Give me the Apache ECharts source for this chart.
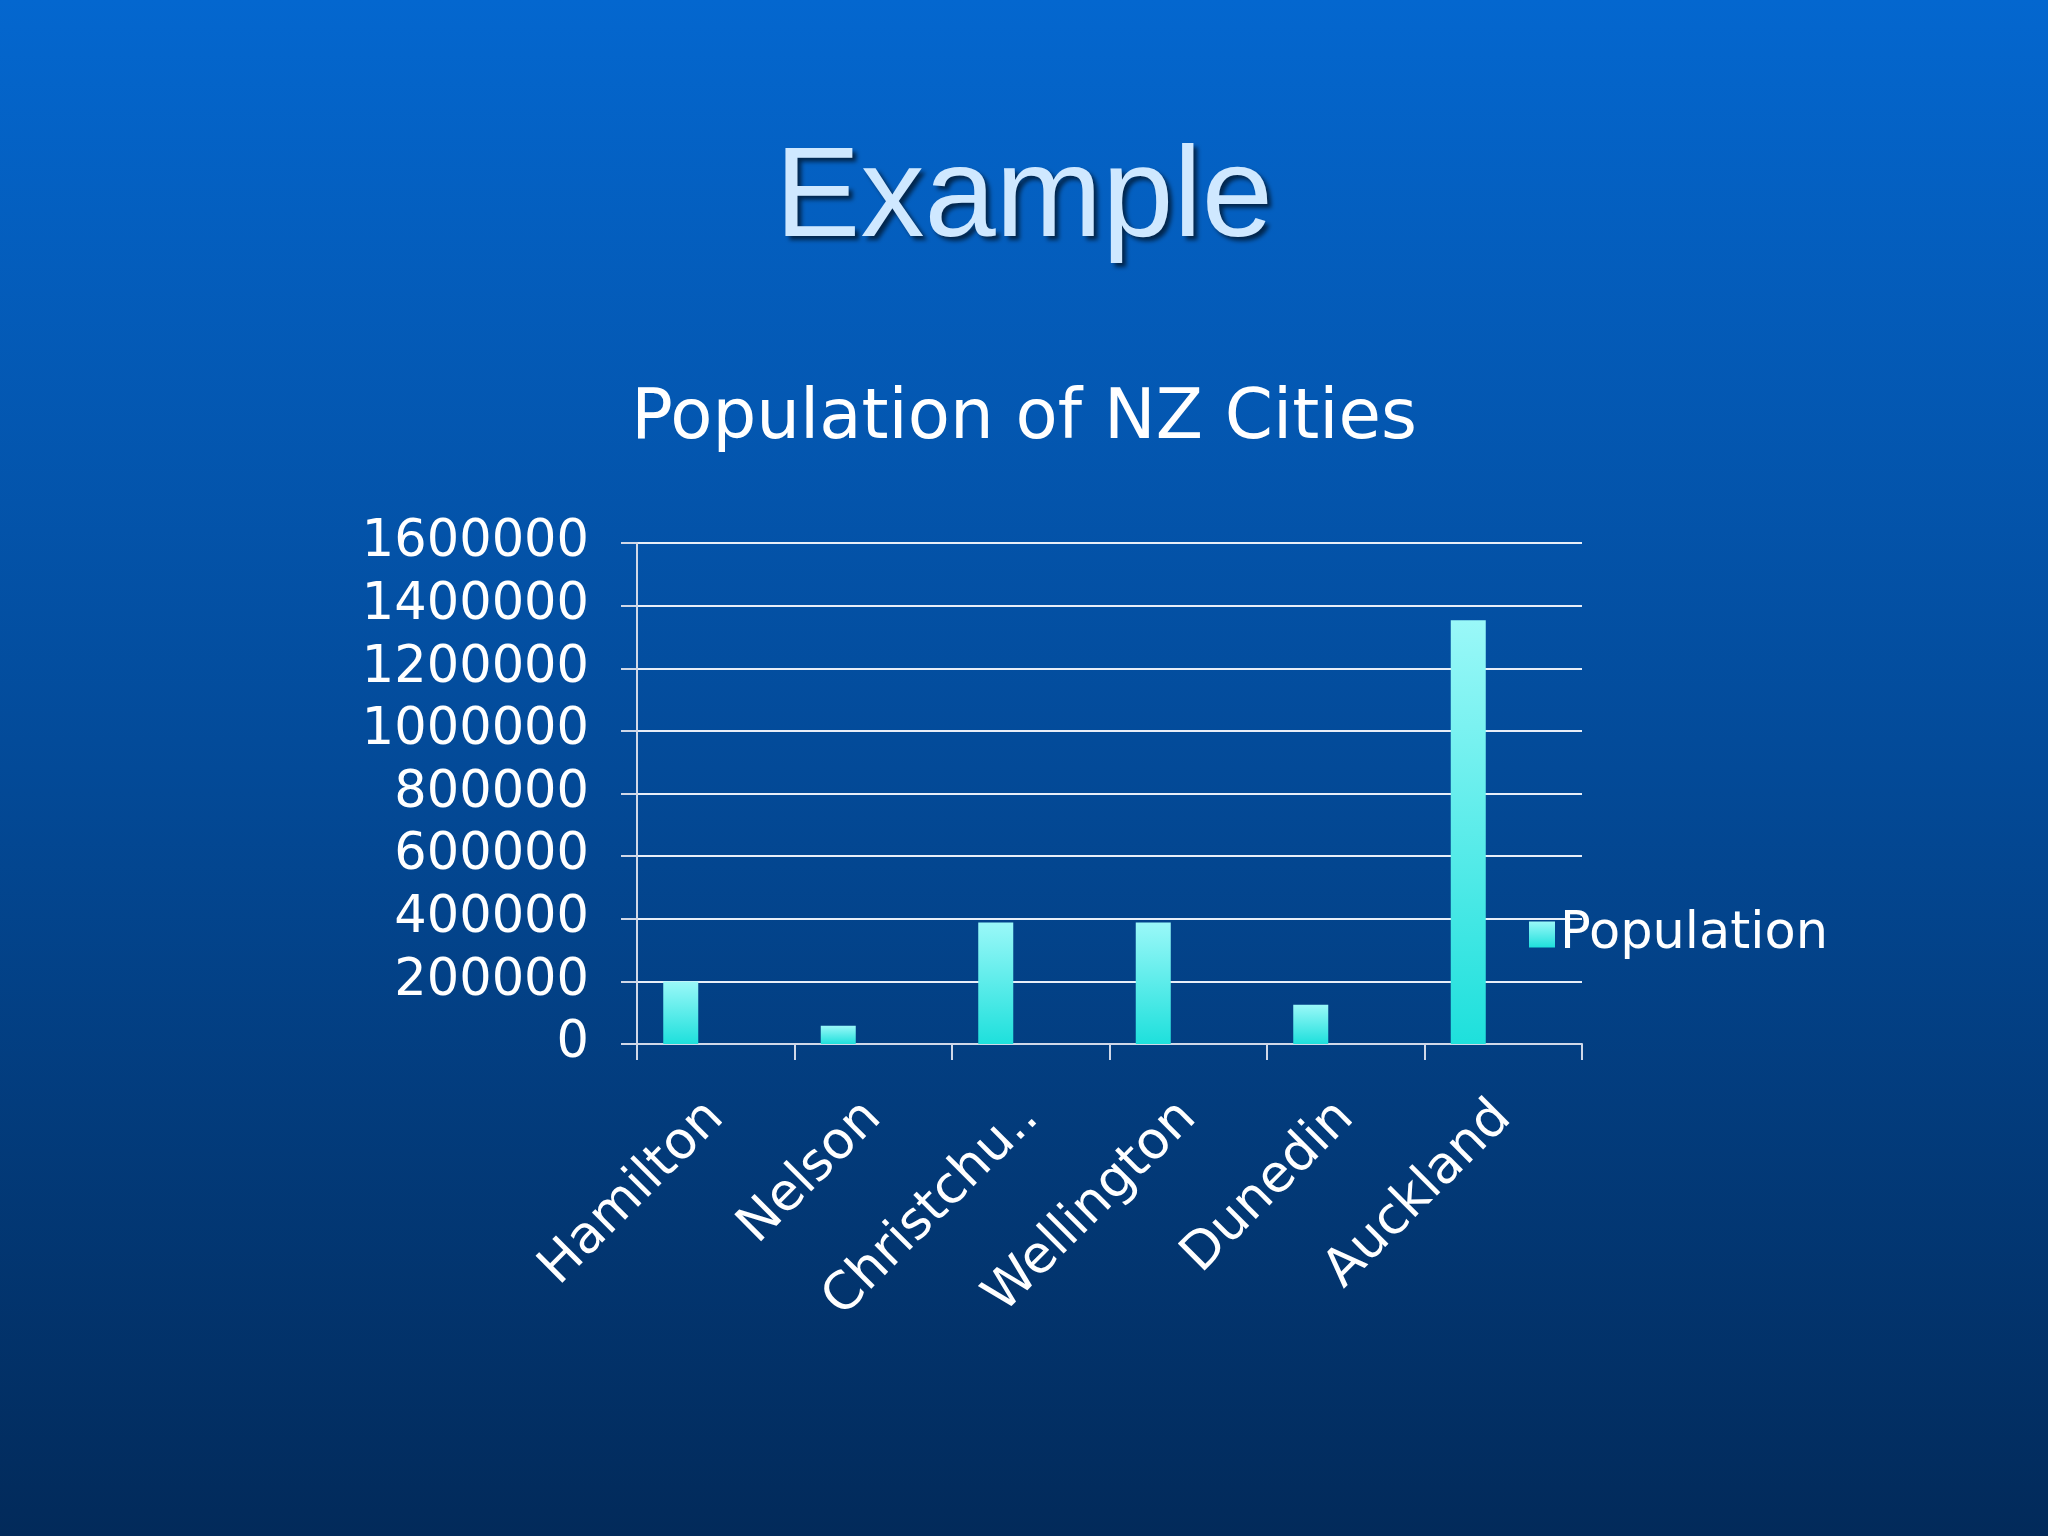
<!DOCTYPE html>
<html><head><meta charset="utf-8">
<script src="https://cdn.jsdelivr.net/npm/echarts@6/dist/echarts.min.js"></script>
<style>html,body{margin:0;padding:0;}#c{width:2048px;height:1536px;}</style>
</head><body><div id="c"></div>
<script>
const categories = ['Hamilton','Nelson','Christchurch','Wellington','Dunedin','Auckland'];
const population = [200000, 58000, 388000, 388000, 125000, 1353000];
const yTicks = [0,200000,400000,600000,800000,1000000,1200000,1400000,1600000];

const chart = echarts.init(document.getElementById('c'));
chart.setOption({
  backgroundColor: {type:'linear',x:0,y:0,x2:0,y2:1,colorStops:[{offset:0,color:'#0467cf'},{offset:0.5,color:'#034a98'},{offset:1,color:'#022a5a'}]},
  title: [
    {text:'Example', left:'center', top:132, textStyle:{fontFamily:'Liberation Sans', fontSize:128, fontWeight:'normal', color:'#cfe8ff', textShadowColor:'rgba(0,0,0,0.6)', textShadowBlur:4, textShadowOffsetX:4, textShadowOffsetY:4}},
    {text:'Population of NZ Cities', left:'center', top:381, textStyle:{fontFamily:'DejaVu Sans', fontSize:69, fontWeight:'normal', color:'#ffffff', textShadowColor:'rgba(0,0,0,0.5)', textShadowOffsetX:2, textShadowOffsetY:2}}
  ],
  legend: {data:['Population'], left:1524, top:904, itemWidth:26, itemHeight:26, icon:'rect', itemGap:4, textStyle:{fontFamily:'DejaVu Sans', fontSize:51, color:'#ffffff'}},
  grid: {left:637, right:2048-1582, top:543, bottom:1536-1044},
  xAxis: {type:'category', data:categories,
    axisLine:{lineStyle:{color:'#d0d8e8', width:2}},
    axisTick:{show:true, length:16, lineStyle:{color:'#d0d8e8', width:2}},
    axisLabel:{rotate:45, interval:0, margin:66, fontFamily:'DejaVu Sans', fontSize:52, color:'#ffffff',
      formatter: v => v.length > 10 ? v.slice(0,9)+'..' : v}},
  yAxis: {type:'value', min:yTicks[0], max:yTicks[yTicks.length-1], interval:200000,
    axisLine:{show:true, lineStyle:{color:'#d0d8e8', width:2}},
    axisTick:{show:true, length:16, lineStyle:{color:'#d0d8e8', width:2}},
    splitLine:{lineStyle:{color:'#e8eef8', width:2}},
    axisLabel:{margin:48, fontFamily:'DejaVu Sans', fontSize:51, color:'#ffffff', formatter: v => String(v)}},
  series: [
    {name:'Population', type:'bar', data:population, barWidth:35, barGap:'100%',
      itemStyle:{color:{type:'linear',x:0,y:0,x2:0,y2:1,colorStops:[{offset:0,color:'#9af8f8'},{offset:1,color:'#1ee0dc'}]}}},
    {name:'_pad', type:'bar', data:population.map(()=>null), barWidth:35}
  ]
});
</script></body></html>
